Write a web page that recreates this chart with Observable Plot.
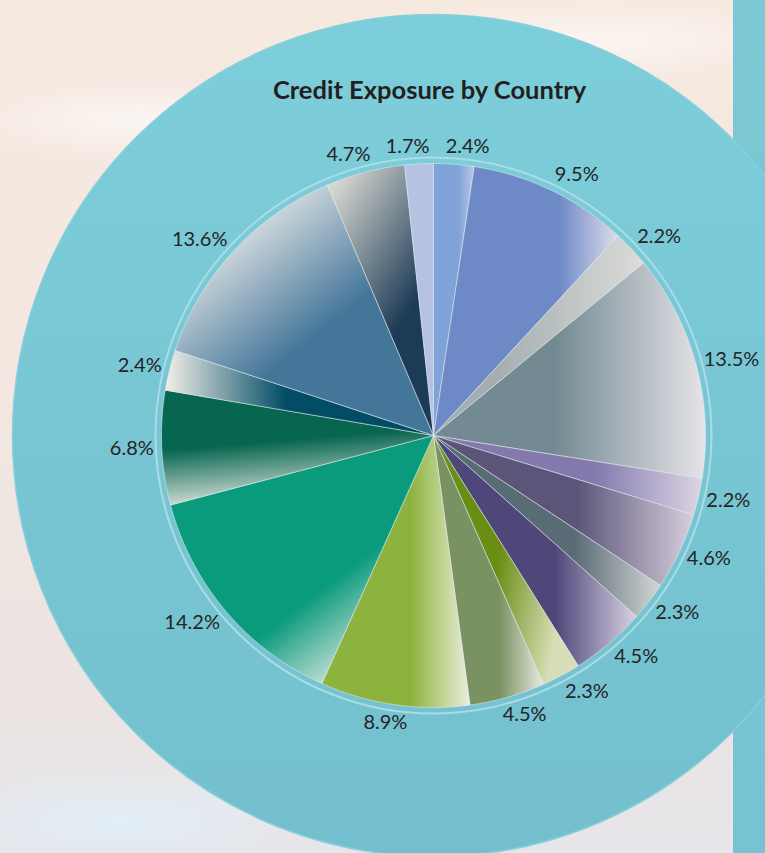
<!DOCTYPE html>
<html><head><meta charset="utf-8">
<script src="https://cdn.jsdelivr.net/npm/d3@7"></script>
<script src="https://cdn.jsdelivr.net/npm/@observablehq/plot@0.6"></script>
<style>
html,body{margin:0;padding:0;}
body{width:765px;height:853px;overflow:hidden;position:relative;
 background:
  radial-gradient(ellipse 260px 60px at 140px 120px, rgba(255,255,255,0.6), rgba(255,255,255,0) 70%),
  radial-gradient(ellipse 330px 60px at 600px 40px, rgba(255,255,255,0.55), rgba(255,255,255,0) 70%),
  radial-gradient(ellipse 300px 80px at 120px 820px, rgba(225,240,250,0.8), rgba(255,255,255,0) 70%),
  linear-gradient(180deg,#f6e9e0 0%,#f3e7e0 45%,#ece4e2 80%,#e6e5e9 100%);}
#bar{position:absolute;left:733px;top:0;width:32px;height:853px;background:linear-gradient(180deg,#7cc8d5,#76c3d1);}
#chart{position:absolute;left:0;top:0;}
</style></head>
<body><div id="bar"></div><div id="chart"></div>
<script>
const title = "Credit Exposure by Country";
const sliceIds = ["s1","s2","s3","s4","s5","s6","s7","s8","s9","s10","s11","s12","s13","s14","s15","s16","s17"];
const shares = [2.4, 9.5, 2.2, 13.5, 2.2, 4.6, 2.3, 4.5, 2.3, 4.5, 8.9, 14.2, 6.8, 2.4, 13.6, 4.7, 1.7];
const labels = ["2.4%","9.5%","2.2%","13.5%","2.2%","4.6%","2.3%","4.5%","2.3%","4.5%","8.9%","14.2%","6.8%","2.4%","13.6%","4.7%","1.7%"];
const baseColors = ["#7fa2d8","#6d89c6","#a4aeb1","#748a93","#8379ad","#5c5579","#596b74","#4f477a","#6a8e14","#7a9262","#8db33f","#0a9a7c","#07664f","#024c66","#44769a","#1c3b56","#b5c2e2"];
const lightColors = ["#b9c8e8","#dedcec","#dcdcd8","#e6e4e8","#dcd6e4","#d6cfdc","#d4d6d6","#d8d2e2","#d8dfb8","#e8e9e0","#eceedc","#f2f2ec","#efefea","#f2efe8","#f8f5f0","#d6d6d0","#b5c2e2"];
// gradient vectors [x1,y1,x2,y2,offset of base colour]
const gradStyle = [[0,0,1,0,0.6],[0,0,1,0,0.68],[0,0,1,0,0.3],[0,0,1,0,0.45],[0,0,1,0,0.6],[0,0,1,0,0.55],[0,0,1,0,0.62],[0,0,1,0,0.6],[0,0,1,0.3,0.55],[0,0,1,0,0.6],[0,0,1,0,0.6],[0.2,0.1,0.85,0.9,0.62],[0.3,0,0.5,1,0.45],[1,0.5,0,0.5,0.55],[0.85,0.95,0.15,0.1,0.42],[0.8,1,0.2,0,0.35],[0,0,1,0,1]];

const R = 272, CX = 433, CY = 435, W = 765, H = 853;
const labelSize = 20, titleSize = 25.5;
const font = "Lato, 'Open Sans', sans-serif";

const arcs = d3.pie().sort(null).value(d => d)(shares);
const pts = [];
arcs.forEach((a, i) => {
  pts.push({id: i, x: 0, y: 0});
  const n = Math.max(3, Math.ceil((a.endAngle - a.startAngle) / 0.005));
  for (let k = 0; k <= n; k++) {
    const t = a.startAngle + (a.endAngle - a.startAngle) * k / n;
    pts.push({id: i, x: Math.sin(t), y: Math.cos(t)});
  }
  pts.push({id: i, x: 0, y: 0});
});

// label placement: box just outside the pie along the mid-angle, with simple collision avoidance
const ctx = document.createElement("canvas").getContext("2d");
ctx.font = `${labelSize}px Lato`;
const wid = labels.map(t => ctx.measureText(t).width);
const R0 = 280, HH = 10, PAD = 15;
const ang = arcs.map(a => (a.startAngle + a.endAngle) / 2);
function box(i) {
  const s = Math.sin(ang[i]), c = Math.cos(ang[i]);
  const k = Math.max(-1, Math.min(1, 2.5 * s));
  return {cx: R0 * s + wid[i] / 2 * k, cy: R0 * c + HH * c, w: wid[i], h: 2 * HH};
}
for (let it = 0; it < 400; it++) {
  let moved = false;
  for (let i = 0; i < ang.length; i++) {
    const j = (i + 1) % ang.length;
    const b1 = box(i), b2 = box(j);
    if (Math.abs(b1.cx - b2.cx) < (b1.w + b2.w) / 2 + PAD && Math.abs(b1.cy - b2.cy) < (b1.h + b2.h) / 2) {
      ang[i] -= 0.003; ang[j] += 0.003; moved = true;
    }
  }
  if (!moved) break;
}
const labelPos = labels.map((t, i) => { const b = box(i); return {x: b.cx / R, y: b.cy / R, label: t}; });

const plot = Plot.plot({
  width: W, height: H, margin: 0,
  style: {background: "transparent", fontFamily: font},
  x: {domain: [-CX / R, (W - CX) / R], axis: null},
  y: {domain: [-(H - CY) / R, CY / R], axis: null},
  color: {type: "identity"},
  marks: [
    Plot.dot([{x: 0, y: 0}], {x: "x", y: "y", r: 421, fill: "url(#ringGrad)", stroke: "#86cfdb", strokeWidth: 1.5}),
    Plot.dot([{x: 0, y: 0}], {x: "x", y: "y", r: 278, fill: "none", stroke: "#a9dce4", strokeWidth: 2}),
    Plot.line(pts, {x: "x", y: "y", z: "id", fill: d => `url(#slice${d.id})`, stroke: "#e6eeef", strokeWidth: 0.6, strokeOpacity: 0.9, curve: "linear"}),
    Plot.text(labelPos, {x: "x", y: "y", text: "label", fontSize: labelSize, fill: "#262324", fontFamily: font}),
    Plot.text([title], {x: () => 0, frameAnchor: "top", lineAnchor: "middle", dx: -4, dy: 90, text: d => d, fontSize: titleSize, fontWeight: "bold", fill: "#231f20", fontFamily: font})
  ]
});

const ns = "http://www.w3.org/2000/svg";
const defs = document.createElementNS(ns, "defs");
function grad(id, x1, y1, x2, y2, stops) {
  const g = document.createElementNS(ns, "linearGradient");
  g.setAttribute("id", id);
  g.setAttribute("x1", x1); g.setAttribute("y1", y1); g.setAttribute("x2", x2); g.setAttribute("y2", y2);
  stops.forEach(([o, c]) => {
    const s = document.createElementNS(ns, "stop");
    s.setAttribute("offset", o); s.setAttribute("stop-color", c);
    g.appendChild(s);
  });
  defs.appendChild(g);
}
grad("ringGrad", 0, 0, 0, 1, [[0, "#7dcedb"], [0.5, "#78c6d4"], [1, "#73bfcd"]]);
sliceIds.forEach((s, i) => {
  const [x1, y1, x2, y2, o] = gradStyle[i];
  grad("slice" + i, x1, y1, x2, y2, [[0, baseColors[i]], [o, baseColors[i]], [1, lightColors[i]]]);
});
plot.insertBefore(defs, plot.firstChild);
document.getElementById("chart").appendChild(plot);
</script>
</body></html>
